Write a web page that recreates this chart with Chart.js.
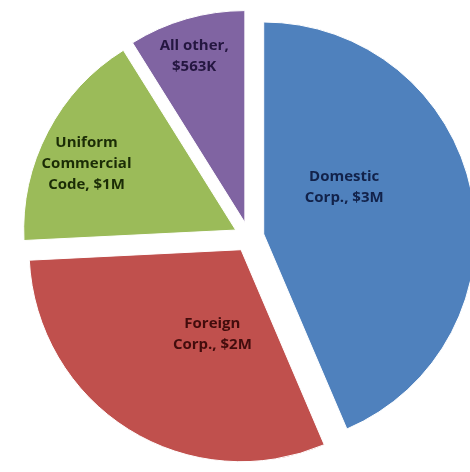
<!DOCTYPE html>
<html>
<head>
<meta charset="utf-8">
<script src="https://cdn.jsdelivr.net/npm/chart.js@4.4.1/dist/chart.umd.min.js"></script>
<style>
  html, body { margin: 0; padding: 0; background: #fff; }
  #wrap { width: 470px; height: 472px; position: relative; }
</style>
</head>
<body>
<div id="wrap"><canvas id="pieChart"></canvas></div>
<script>
// Data
const categories = ["Domestic Corp.", "Foreign Corp.", "Uniform Commercial Code", "All other"];
const amounts = [2.76, 1.94, 1.07, 0.563]; // juta dolar
const amountLabels = ["$3M", "$2M", "$1M", "$563K"];
const labelLines = [
    ["Domestic", "Corp., $3M"],
    ["Foreign", "Corp., $2M"],
    ["Uniform", "Commercial", "Code, $1M"],
    ["All other,", "$563K"]
];

const sliceColors = ['#4f81bd', '#c0504d', '#9bbb59', '#8064a2'];
const textColors = ['#12224a', '#420c0c', '#1b2c06', '#241640'];

// posisi label: [fraksi sudut di dalam slice, fraksi radius]
const labelPlacement = [[0.38, 0.44], [0.38, 0.42], [0.44, 0.77], [0.47, 0.82]];

// geser tiap slice keluar (exploded pie)
const explodePlugin = {
    id: 'explode',
    afterDatasetUpdate(chart, args, opts) {
        args.meta.data.forEach(arc => {
            const mid = (arc.startAngle + arc.endAngle) / 2;
            arc.x += Math.cos(mid) * opts.distance;
            arc.y += Math.sin(mid) * opts.distance;
        });
    }
};

// label di dalam slice
const sliceLabelPlugin = {
    id: 'sliceLabels',
    afterDatasetsDraw(chart) {
        const ctx = chart.ctx;
        const meta = chart.getDatasetMeta(0);
        ctx.save();
        ctx.font = 'bold 15px "Open Sans"';
        ctx.textAlign = 'center';
        ctx.textBaseline = 'middle';
        meta.data.forEach((arc, i) => {
            const [t, f] = labelPlacement[i];
            const a = arc.startAngle + t * (arc.endAngle - arc.startAngle);
            const lx = arc.x + Math.cos(a) * f * arc.outerRadius;
            const ly = arc.y + Math.sin(a) * f * arc.outerRadius;
            const lines = labelLines[i];
            const lh = 21;
            ctx.fillStyle = textColors[i];
            lines.forEach((txt, k) => {
                ctx.fillText(txt, lx, ly + (k - (lines.length - 1) / 2) * lh);
            });
        });
        ctx.restore();
    }
};

const ctx = document.getElementById('pieChart').getContext('2d');
const myChart = new Chart(ctx, {
    type: 'pie',
    data: {
        labels: categories,
        datasets: [{
            data: amounts,
            backgroundColor: sliceColors,
            borderColor: '#ffffff',
            borderWidth: 1
        }]
    },
    options: {
        responsive: true,
        maintainAspectRatio: false,
        animation: false,
        radius: 212,
        layout: { padding: { left: 28, right: 0, top: 2, bottom: 0 } },
        plugins: {
            legend: { display: false },
            tooltip: { enabled: false },
            explode: { distance: 15 }
        }
    },
    plugins: [explodePlugin, sliceLabelPlugin]
});
</script>
</body>
</html>
